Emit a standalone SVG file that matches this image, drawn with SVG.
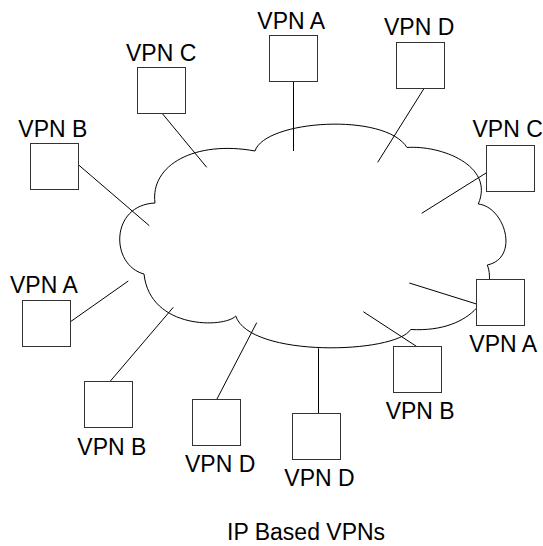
<svg xmlns="http://www.w3.org/2000/svg" width="543" height="546" viewBox="0 0 543 546">
<style>
.box{fill:#fff;stroke:#333;stroke-width:1}
.link{stroke:#000;stroke-width:1;fill:none}
.cloud{fill:#fff;stroke:#000;stroke-width:1}
text{font-family:"Liberation Sans",Arial,sans-serif;font-size:23px;fill:#000}
</style>
<rect width="543" height="546" fill="#fff"/>
<g id="cloud">
<path class="cloud" d="M155,203 C150,165 195,140 255,151 C265,120 385,112 407,147.5 C440,145 495,165 478.3,204 C505,207 520,258 487.3,265 C497,290 475,333 410.7,329.5 C395,354 250,358 235.7,316 C225,328 150,330 144,274 C110,265 110,205 155,203 Z"/>
</g>
<g id="connectors">
<line class="link" x1="162.7" y1="114" x2="206.7" y2="167.3"/>
<line class="link" x1="293.5" y1="82" x2="293.5" y2="151"/>
<line class="link" x1="424" y1="88.5" x2="377.7" y2="162.3"/>
<line class="link" x1="78.7" y1="165" x2="149.3" y2="225.7"/>
<line class="link" x1="486.5" y1="172.7" x2="421.7" y2="213.3"/>
<line class="link" x1="70.5" y1="321.7" x2="128.3" y2="281"/>
<line class="link" x1="476.5" y1="304" x2="409.3" y2="283"/>
<line class="link" x1="110" y1="381.5" x2="173.3" y2="307.3"/>
<line class="link" x1="216.7" y1="399.5" x2="256.7" y2="322.7"/>
<line class="link" x1="318.5" y1="348.3" x2="318.5" y2="413.5"/>
<line class="link" x1="416.7" y1="346.5" x2="363.3" y2="311.7"/>
</g>
<g id="vpn-c-topleft"><rect class="box" x="137.5" y="67.5" width="48" height="46"/><text x="126" y="60.7">VPN C</text></g>
<g id="vpn-a-top"><rect class="box" x="269.5" y="35.5" width="48" height="46"/><text x="257.3" y="29">VPN A</text></g>
<g id="vpn-d-top"><rect class="box" x="396.5" y="42.5" width="48" height="46"/><text x="384" y="35">VPN D</text></g>
<g id="vpn-b-left"><rect class="box" x="30.5" y="143.5" width="48" height="46"/><text x="18.3" y="136.7">VPN B</text></g>
<g id="vpn-c-right"><rect class="box" x="486.5" y="145.5" width="48" height="46"/><text x="472.5" y="137">VPN C</text></g>
<g id="vpn-a-left"><rect class="box" x="22.5" y="300.5" width="48" height="46"/><text x="10" y="292.5">VPN A</text></g>
<g id="vpn-a-right"><rect class="box" x="476.5" y="279.5" width="48" height="46"/><text x="469.3" y="352.3">VPN A</text></g>
<g id="vpn-b-bottomleft"><rect class="box" x="84.5" y="381.5" width="48" height="46"/><text x="77.3" y="455">VPN B</text></g>
<g id="vpn-d-bottom1"><rect class="box" x="192.5" y="399.5" width="48" height="46"/><text x="185" y="472.3">VPN D</text></g>
<g id="vpn-d-bottom2"><rect class="box" x="292.5" y="413.5" width="48" height="46"/><text x="284.3" y="486">VPN D</text></g>
<g id="vpn-b-right"><rect class="box" x="393.5" y="346.5" width="48" height="46"/><text x="385.7" y="419.3">VPN B</text></g>
<text id="caption" x="227" y="540">IP Based VPNs</text>
</svg>
